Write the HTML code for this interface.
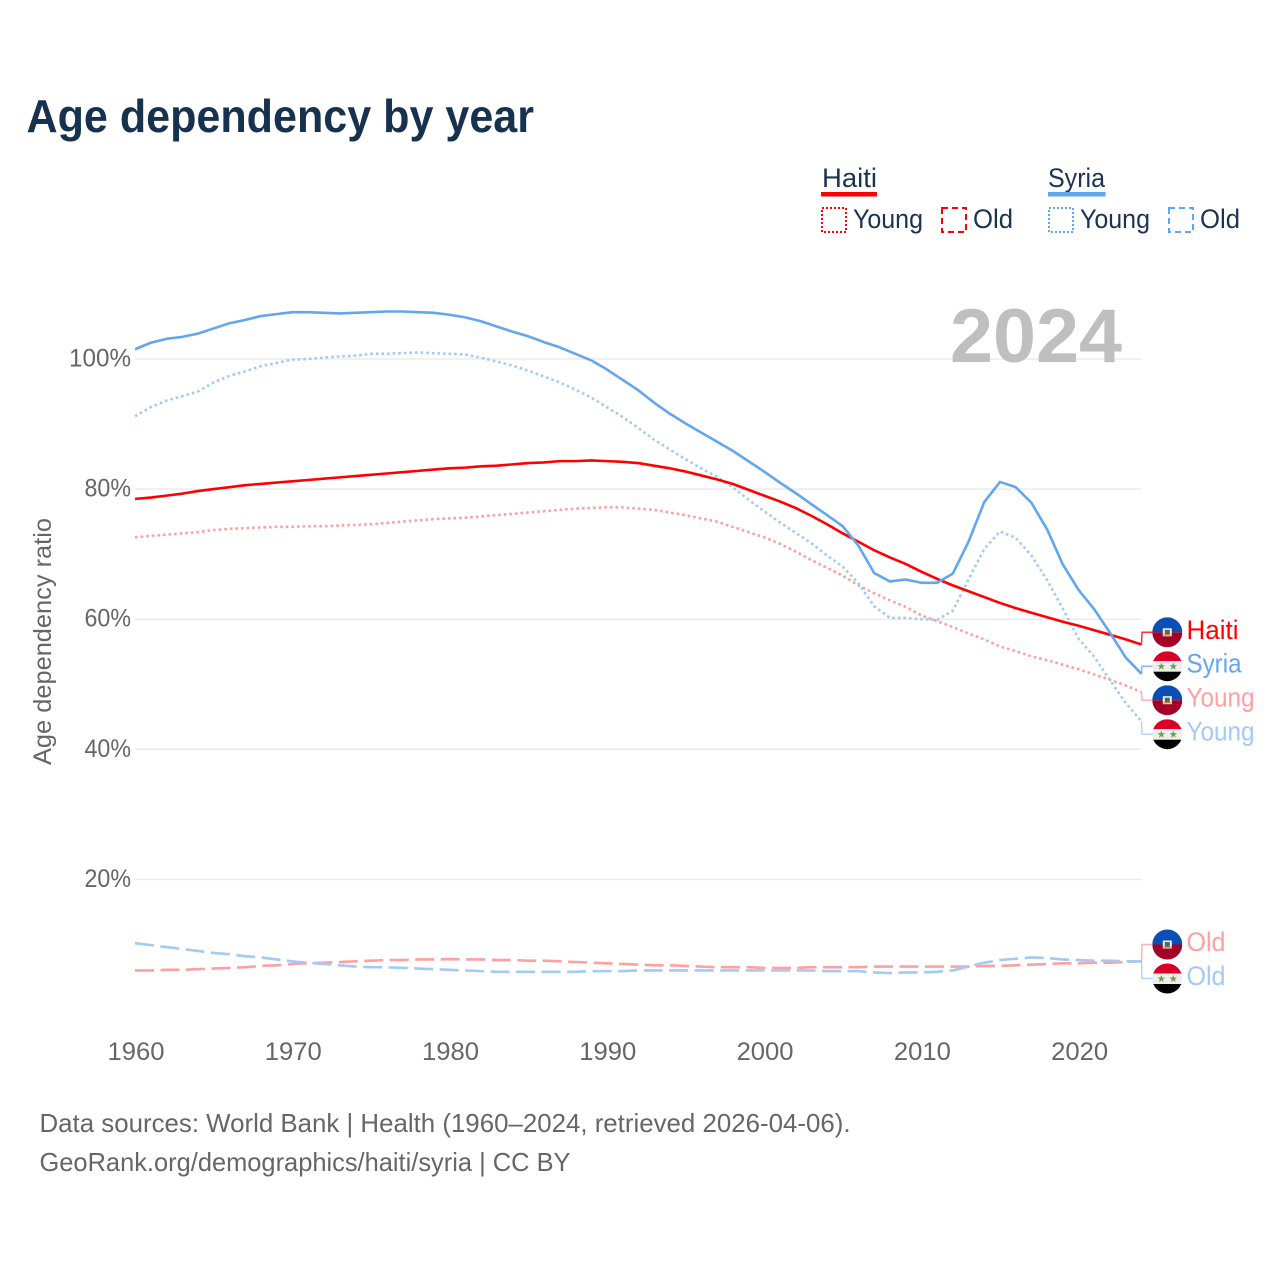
<!DOCTYPE html>
<html lang="en">
<head>
<meta charset="utf-8">
<title>Age dependency by year</title>
<style>
html,body{margin:0;padding:0;background:#fff;}
svg{display:block;font-family:"Liberation Sans",sans-serif;}
</style>
</head>
<body>
<svg id="chart" width="1280" height="1280" viewBox="0 0 1280 1280" xmlns="http://www.w3.org/2000/svg">
  <defs>
    <clipPath id="flag-clip"><circle cx="0" cy="0" r="15"/></clipPath>
  </defs>
  <rect width="1280" height="1280" fill="#ffffff"/>
  <text x="26.5" y="132" font-size="46" font-weight="700" fill="#17324f" textLength="507.5" lengthAdjust="spacingAndGlyphs">Age dependency by year</text>

  <g font-size="27" fill="#1a3352">
    <text x="822" y="187" textLength="55" lengthAdjust="spacingAndGlyphs">Haiti</text>
    <rect x="821" y="192" width="56" height="4.5" fill="#ff0000"/>
    <rect x="822" y="208" width="24" height="24" fill="none" stroke="#ff0000" stroke-width="2" stroke-dasharray="2 2"/>
    <text x="853" y="228" textLength="70" lengthAdjust="spacingAndGlyphs">Young</text>
    <rect x="942" y="208" width="24" height="24" fill="none" stroke="#ff0000" stroke-width="2" stroke-dasharray="6 4"/>
    <text x="973" y="228" textLength="40" lengthAdjust="spacingAndGlyphs">Old</text>
    <text x="1048" y="187" textLength="57" lengthAdjust="spacingAndGlyphs">Syria</text>
    <rect x="1048" y="192" width="57.5" height="4.5" fill="#62a6f0"/>
    <rect x="1049" y="208" width="24" height="24" fill="none" stroke="#62a6f0" stroke-width="2" stroke-dasharray="2 2"/>
    <text x="1080" y="228" textLength="70" lengthAdjust="spacingAndGlyphs">Young</text>
    <rect x="1169" y="208" width="24" height="24" fill="none" stroke="#62a6f0" stroke-width="2" stroke-dasharray="6 4"/>
    <text x="1200" y="228" textLength="40" lengthAdjust="spacingAndGlyphs">Old</text>
  </g>

  <g id="grid"></g>
  <g id="yticks"></g>
  <g id="xticks"></g>
  <text transform="translate(51,765) rotate(-90)" font-size="25" fill="#666666" textLength="247" lengthAdjust="spacingAndGlyphs">Age dependency ratio</text>
  <text x="950" y="362" font-size="76" font-weight="700" fill="#bfbfbf" textLength="172" lengthAdjust="spacingAndGlyphs">2024</text>

  <g id="series"></g>
  <g id="end-labels"></g>

  <text x="39.5" y="1132" font-size="26" fill="#666666" textLength="811" lengthAdjust="spacingAndGlyphs">Data sources: World Bank | Health (1960–2024, retrieved 2026-04-06).</text>
  <text x="39.5" y="1171" font-size="26" fill="#666666" textLength="531" lengthAdjust="spacingAndGlyphs">GeoRank.org/demographics/haiti/syria | CC BY</text>
</svg>
<script>
const startYear = 1960;
const xTickYears = [1960, 1970, 1980, 1990, 2000, 2010, 2020];
const yTickValues = [20, 40, 60, 80, 100];
const yTickLabels = ['20%', '40%', '60%', '80%', '100%'];

const haitiTotal = [
  78.5,78.7,79.0,79.3,79.7,80.0,80.3,80.6,80.8,81.0,
  81.2,81.4,81.6,81.8,82.0,82.2,82.4,82.6,82.8,83.0,
  83.2,83.3,83.5,83.6,83.8,84.0,84.1,84.3,84.3,84.4,
  84.3,84.2,84.0,83.6,83.2,82.7,82.1,81.5,80.8,79.9,
  79.0,78.1,77.1,75.9,74.6,73.2,71.9,70.6,69.5,68.5,
  67.3,66.2,65.2,64.3,63.4,62.5,61.7,61.0,60.3,59.6,
  59.0,58.3,57.6,56.9,56.1
];
const haitiYoung = [
  72.6,72.8,73.0,73.2,73.4,73.7,73.9,74.0,74.1,74.2,
  74.2,74.3,74.3,74.4,74.5,74.6,74.8,75.0,75.2,75.4,
  75.5,75.6,75.8,76.0,76.2,76.4,76.6,76.8,77.0,77.1,
  77.2,77.2,77.0,76.8,76.4,76.0,75.5,75.0,74.2,73.4,
  72.6,71.6,70.4,69.1,67.9,66.7,65.2,64.0,62.9,61.9,
  60.6,59.7,58.8,57.8,56.9,55.8,55.1,54.3,53.7,53.0,
  52.3,51.5,50.7,49.8,48.8
];
const haitiOld = [
  6.0,6.0,6.1,6.1,6.2,6.3,6.4,6.5,6.7,6.8,
  7.0,7.1,7.2,7.3,7.4,7.5,7.6,7.6,7.7,7.7,
  7.75,7.7,7.7,7.6,7.6,7.5,7.5,7.4,7.3,7.2,
  7.1,7.0,6.9,6.8,6.8,6.7,6.6,6.5,6.5,6.5,
  6.4,6.4,6.4,6.5,6.5,6.5,6.5,6.6,6.6,6.6,
  6.6,6.6,6.6,6.6,6.7,6.7,6.8,6.9,7.0,7.1,
  7.1,7.2,7.2,7.3,7.4
];
const syriaTotal = [
  101.5,102.5,103.1,103.4,103.9,104.7,105.5,106.0,106.6,106.9,
  107.2,107.2,107.1,107.0,107.1,107.2,107.3,107.3,107.2,107.1,
  106.8,106.4,105.8,105.0,104.2,103.5,102.6,101.8,100.8,99.8,
  98.4,96.8,95.2,93.3,91.6,90.1,88.7,87.3,85.9,84.3,
  82.7,81.0,79.4,77.7,76.0,74.3,71.3,67.1,65.8,66.1,
  65.6,65.6,67.0,71.9,78.0,81.1,80.3,77.9,73.8,68.4,
  64.5,61.5,57.9,54.1,51.6
];
const syriaYoung = [
  91.2,92.6,93.6,94.3,95.0,96.4,97.4,98.1,98.9,99.4,
  99.9,100.0,100.2,100.4,100.5,100.8,100.8,100.9,101.0,100.9,
  100.8,100.7,100.2,99.6,99.0,98.2,97.3,96.4,95.3,94.1,
  92.6,91.1,89.4,87.6,86.1,84.6,83.2,81.9,80.3,78.4,
  76.6,74.9,73.3,71.7,69.8,68.1,65.5,62.0,60.2,60.2,
  60.0,59.9,61.3,66.1,70.8,73.5,72.5,69.8,66.0,61.6,
  57.0,54.2,50.6,47.1,44.3
];
const syriaOld = [
  10.2,9.9,9.6,9.3,9.0,8.7,8.5,8.2,8.0,7.7,
  7.4,7.2,7.0,6.8,6.6,6.5,6.5,6.4,6.3,6.2,
  6.1,6.0,5.9,5.8,5.8,5.8,5.8,5.8,5.8,5.9,
  5.9,5.9,6.0,6.0,6.0,6.0,6.0,6.0,6.0,6.0,
  6.0,6.0,6.0,6.0,5.9,5.9,5.9,5.7,5.6,5.7,
  5.7,5.8,6.0,6.6,7.2,7.6,7.8,8.0,7.9,7.7,
  7.6,7.5,7.5,7.4,7.4
];

const NS = 'http://www.w3.org/2000/svg';
function xScale(year) { return 135 + (year - 1960) * (1141.5 - 135) / 64; }
function yScale(v) { return 1009.5 - v * 6.505; }
function make(tag, attrs, parent) {
  const el = document.createElementNS(NS, tag);
  for (const k in attrs) el.setAttribute(k, attrs[k]);
  parent.appendChild(el);
  return el;
}

const gridG = document.getElementById('grid');
const yG = document.getElementById('yticks');
yTickValues.forEach(function (v, i) {
  const line = make('line', {x1: 135, x2: 1141.5, y1: yScale(v), y2: yScale(v), stroke: '#ebebeb', 'stroke-width': 1.5}, gridG);
  
  
  const t = make('text', {x: 131, y: yScale(v) + 7.5, 'text-anchor': 'end', 'font-size': 25, fill: '#666666', textLength: yTickLabels[i].length * 15.5, lengthAdjust: 'spacingAndGlyphs'}, yG);
  
  
  t.textContent = yTickLabels[i];
});

const xG = document.getElementById('xticks');
xTickYears.forEach(function (yr) {
  const t = make('text', {x: xScale(yr) + 1, y: 1060, 'text-anchor': 'middle', 'font-size': 25, fill: '#666666', textLength: 57, lengthAdjust: 'spacingAndGlyphs'}, xG);
  
  
  t.textContent = String(yr);
});

const RED = '#ff0000', BLUE = '#62a6f0', PINK = '#ff9f9f', LBLUE = '#a3caf4';
const DOT = '2.6 3', DASH = '19 6.5';

function drawLine(values, color, dash, name) {
  const pts = values.map(function (v, i) {
    return xScale(startYear + i).toFixed(2) + ',' + yScale(v).toFixed(2);
  }).join(' ');
  const attrs = {points: pts, fill: 'none', stroke: color, 'stroke-width': 2.6, 'stroke-linejoin': 'round'};
  if (dash) attrs['stroke-dasharray'] = dash;
  const el = make('polyline', attrs, document.getElementById('series'));
  
  
}
drawLine(haitiOld, PINK, DASH, 'line-haiti-old');
drawLine(syriaOld, LBLUE, DASH, 'line-syria-old');
drawLine(haitiYoung, PINK, DOT, 'line-haiti-young');
drawLine(syriaYoung, LBLUE, DOT, 'line-syria-young');
drawLine(haitiTotal, RED, null, 'line-haiti-total');
drawLine(syriaTotal, BLUE, null, 'line-syria-total');

function star(parent, cx, cy, r) {
  let p = [];
  for (let i = 0; i < 10; i++) {
    const a = -Math.PI / 2 + i * Math.PI / 5;
    const rad = i % 2 ? r * 0.42 : r;
    p.push((cx + rad * Math.cos(a)).toFixed(2) + ',' + (cy + rad * Math.sin(a)).toFixed(2));
  }
  const s = make('polygon', {points: p.join(' '), fill: '#6da544'}, parent);
  
  
}

function flag(parent, country, cy) {
  const g = make('g', {transform: 'translate(1167.3,' + cy + ')', 'clip-path': 'url(#flag-clip)'}, parent);
  
  
  if (country === 'haiti') {
    make('rect', {x: -15, y: -15, width: 30, height: 15, fill: '#0a4fb5'}, g);
    make('rect', {x: -15, y: 0, width: 30, height: 15, fill: '#a50028'}, g);
    make('rect', {x: -4.5, y: -4, width: 9, height: 8, fill: '#f0f0f0'}, g);
    make('rect', {x: -2.5, y: -2.5, width: 5, height: 4.5, fill: '#4f6a5e'}, g);
    make('rect', {x: -3.5, y: 2, width: 7, height: 1.2, fill: '#b08a30'}, g);
  } else {
    make('rect', {x: -15, y: -15, width: 30, height: 10, fill: '#d80027'}, g);
    make('rect', {x: -15, y: -5, width: 30, height: 10.5, fill: '#eeeeee'}, g);
    make('rect', {x: -15, y: 5.5, width: 30, height: 10, fill: '#000000'}, g);
    star(g, -6, 0.3, 4);
    star(g, 6, 0.3, 4);
  }
}

function endLabel(values, country, text, textWidth, color, slotY, name) {
  const parent = document.getElementById('end-labels');
  const endY = yScale(values[values.length - 1]);
  const x0 = xScale(startYear + values.length - 1);
  const leader = make('polyline', {points: x0 + ',' + endY + ' ' + (x0 + 0.5) + ',' + slotY + ' 1153,' + slotY, fill: 'none', stroke: color, 'stroke-width': 1.5, opacity: 0.8}, parent);
  
  
  flag(parent, country, slotY);
  const t = make('text', {x: 1186.5, y: slotY + 6.5, 'font-size': 27, fill: color, textLength: textWidth, lengthAdjust: 'spacingAndGlyphs'}, parent);
  
  
  t.textContent = text;
}
endLabel(haitiTotal, 'haiti', 'Haiti', 52, RED, 632.3, 'haiti-total');
endLabel(syriaTotal, 'syria', 'Syria', 55, BLUE, 666.2, 'syria-total');
endLabel(haitiYoung, 'haiti', 'Young', 68, PINK, 700.2, 'haiti-young');
endLabel(syriaYoung, 'syria', 'Young', 68, LBLUE, 734.2, 'syria-young');
endLabel(haitiOld, 'haiti', 'Old', 39, PINK, 944.5, 'haiti-old');
endLabel(syriaOld, 'syria', 'Old', 39, LBLUE, 978.5, 'syria-old');
</script>
</body>
</html>
